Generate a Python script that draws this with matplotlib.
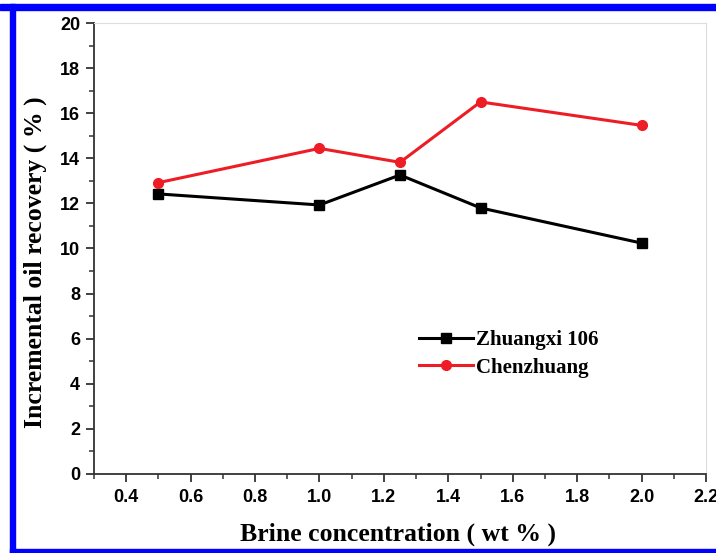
import matplotlib
matplotlib.use('Agg')
import matplotlib.pyplot as plt
from matplotlib.patches import Rectangle
from matplotlib.ticker import MultipleLocator

# brine concentration (wt %) and incremental oil recovery (%)
conc = [0.5, 1.0, 1.25, 1.5, 2.0]
zhuangxi = [12.42, 11.93, 13.26, 11.80, 10.24]
chenzhuang = [12.92, 14.44, 13.82, 16.50, 15.46]

fig = plt.figure(figsize=(7.16, 5.53), dpi=100)
ax = fig.add_axes([0.1313, 0.1429, 0.8547, 0.8155])

ax.plot(conc, zhuangxi, color='black', lw=2.2, marker='s', ms=6.5, label='Zhuangxi 106')
ax.plot(conc, chenzhuang, color='#ee1c25', lw=2.2, marker='o', ms=7, label='Chenzhuang')

ax.set_xlim(0.3, 2.2)
ax.set_ylim(0, 20)
ax.xaxis.set_major_locator(MultipleLocator(0.2))
ax.xaxis.set_minor_locator(MultipleLocator(0.1))
ax.yaxis.set_major_locator(MultipleLocator(2))
ax.yaxis.set_minor_locator(MultipleLocator(1))
ax.set_xticks([0.4, 0.6, 0.8, 1.0, 1.2, 1.4, 1.6, 1.8, 2.0, 2.2])

#left and bottom spines are black, top/right very faint
for s in ['left', 'bottom']:
	ax.spines[s].set_linewidth(1.3)
	ax.spines[s].set_color('#333333')
for s in ['top', 'right']:
	ax.spines[s].set_linewidth(0.8)
	ax.spines[s].set_color('#dddddd')

ax.tick_params(which='major', direction='out', length=6, width=1.3, color='#333333', top=False, right=False)
ax.tick_params(which='minor', direction='out', length=3.5, width=1.1, color='#333333', top=False, right=False)
narrow = ['Liberation Sans Narrow', 'Liberation Sans', 'DejaVu Sans']
for lab in ax.get_xticklabels() + ax.get_yticklabels():
	lab.set_fontfamily(narrow)
	lab.set_fontweight('bold')
	lab.set_fontsize(13)
ax.tick_params(axis='x', pad=5)
ax.tick_params(axis='y', pad=4)

serif = ['Liberation Serif', 'DejaVu Serif']
ax.set_xlabel('Brine concentration ( wt % )', family=serif, weight='bold', size=18.5)
ax.set_ylabel('Incremental oil recovery ( % )', family=serif, weight='bold', size=18.5)
ax.xaxis.set_label_coords(0.497, -0.108)
ax.yaxis.set_label_coords(-0.077, 0.47)

ax.legend(loc='upper left', bbox_to_anchor=(0.5, 0.36), frameon=False,
	prop={'family': serif, 'weight': 'bold', 'size': 15}, handlelength=2.6,
	handletextpad=0.15, labelspacing=0.35)

# blue frame around the figure
blue = '#0000ff'
fig.patches.append(Rectangle((0, 1 - 10/553), 1, 6/553, transform=fig.transFigure, color=blue, zorder=10))
fig.patches.append(Rectangle((10/716, 0), 5/716, 1 - 4/553, transform=fig.transFigure, color=blue, zorder=10))
fig.patches.append(Rectangle((10/716, 0), 1, 4/553, transform=fig.transFigure, color=blue, zorder=10))

fig.savefig('out.png', dpi=100)
